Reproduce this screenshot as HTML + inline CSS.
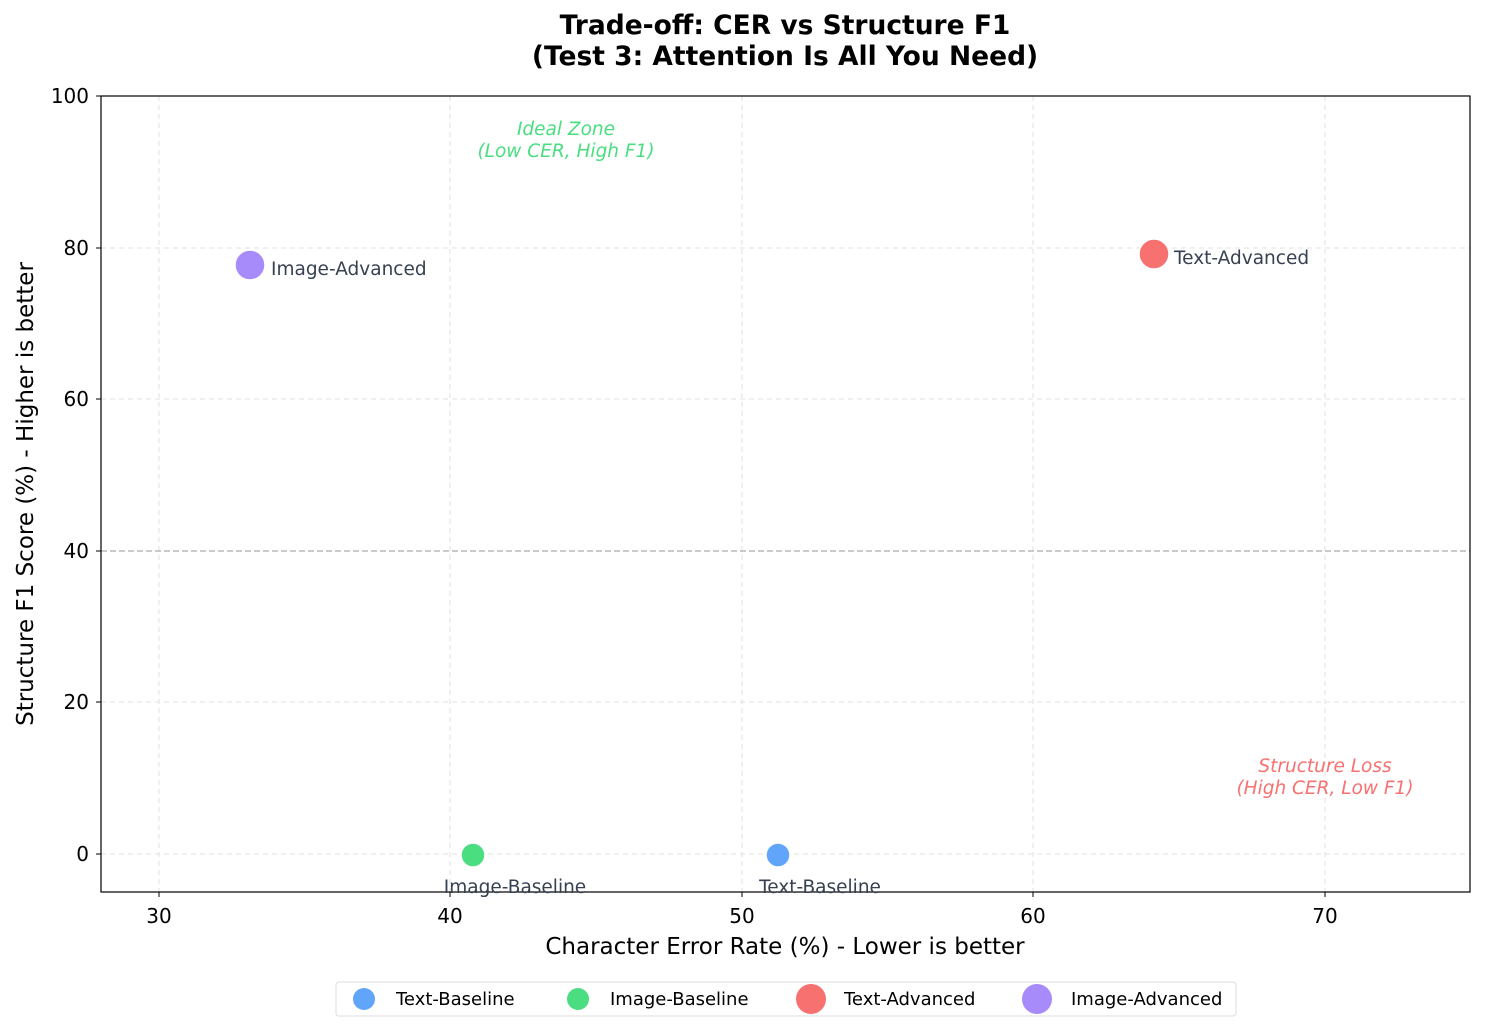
<!DOCTYPE html>
<html><head><meta charset="utf-8"><style>
body{margin:0;background:#fff;}
svg text{font-family:"DejaVu Sans","Liberation Sans",sans-serif;}
</style></head><body>
<svg width="1485" height="1031" viewBox="0 0 1485 1031" xmlns="http://www.w3.org/2000/svg">
<rect width="1485" height="1031" fill="#fff"/>
<text x="785" y="34" font-size="26.5" font-weight="bold" text-anchor="middle" fill="#000">Trade-off: CER vs Structure F1</text>
<text x="785" y="65" font-size="26.5" font-weight="bold" text-anchor="middle" fill="#000">(Test 3: Attention Is All You Need)</text>
<g stroke="#e6e6e6" stroke-width="1.2" stroke-dasharray="5,4">
<line x1="159" y1="96" x2="159" y2="892"/><line x1="450" y1="96" x2="450" y2="892"/>
<line x1="742" y1="96" x2="742" y2="892"/><line x1="1033" y1="96" x2="1033" y2="892"/>
<line x1="1325" y1="96" x2="1325" y2="892"/>
<line x1="101" y1="854" x2="1470" y2="854"/><line x1="101" y1="702" x2="1470" y2="702"/>
<line x1="101" y1="399" x2="1470" y2="399"/><line x1="101" y1="248" x2="1470" y2="248"/>
</g>
<line x1="101" y1="551" x2="1470" y2="551" stroke="#aaa" stroke-width="1.2" stroke-dasharray="6,3"/>
<rect x="101" y="96" width="1369" height="796" fill="none" stroke="#000" stroke-width="1.2"/>
<g stroke="#000" stroke-width="1">
<line x1="159" y1="892" x2="159" y2="897"/><line x1="450" y1="892" x2="450" y2="897"/><line x1="742" y1="892" x2="742" y2="897"/><line x1="1033" y1="892" x2="1033" y2="897"/><line x1="1325" y1="892" x2="1325" y2="897"/>
<line x1="96" y1="854" x2="101" y2="854"/><line x1="96" y1="702" x2="101" y2="702"/><line x1="96" y1="551" x2="101" y2="551"/><line x1="96" y1="399" x2="101" y2="399"/><line x1="96" y1="248" x2="101" y2="248"/><line x1="96" y1="96" x2="101" y2="96"/>
</g>
<g font-size="20" fill="#000" text-anchor="middle">
<text x="159" y="923">30</text><text x="450" y="923">40</text><text x="742" y="923">50</text><text x="1033" y="923">60</text><text x="1325" y="923">70</text>
</g>
<g font-size="20" fill="#000" text-anchor="end">
<text x="89" y="861">0</text><text x="89" y="709">20</text><text x="89" y="558">40</text><text x="89" y="406">60</text><text x="89" y="255">80</text><text x="89" y="103">100</text>
</g>
<text x="785" y="954" font-size="23" text-anchor="middle">Character Error Rate (%) - Lower is better</text>
<text transform="translate(33,494) rotate(-90)" font-size="23" text-anchor="middle">Structure F1 Score (%) - Higher is better</text>
<g font-size="18.5" font-style="italic" text-anchor="middle" fill="#4ade80">
<text x="566" y="135">Ideal Zone</text><text x="566" y="157">(Low CER, High F1)</text></g>
<g font-size="18.5" font-style="italic" text-anchor="middle" fill="#f87171">
<text x="1325" y="772">Structure Loss</text><text x="1325" y="794">(High CER, Low F1)</text></g>
<circle cx="250" cy="265" r="15" fill="#a78bfa" stroke="#fff" stroke-width="1.5"/>
<circle cx="1154" cy="254" r="15" fill="#f87171" stroke="#fff" stroke-width="1.5"/>
<circle cx="473" cy="855" r="12" fill="#4ade80" stroke="#fff" stroke-width="1.5"/>
<circle cx="778" cy="855" r="12" fill="#60a5fa" stroke="#fff" stroke-width="1.5"/>
<g font-size="18.5" fill="#374151">
<text x="271" y="275">Image-Advanced</text><text x="1174" y="264">Text-Advanced</text>
<text x="515" y="893" text-anchor="middle">Image-Baseline</text><text x="820" y="893" text-anchor="middle">Text-Baseline</text>
</g>
<rect x="336" y="982" width="900" height="34" rx="3" fill="#fff" stroke="#ddd"/>
<circle cx="364" cy="999" r="11" fill="#60a5fa"/><text x="396" y="1005" font-size="18">Text-Baseline</text>
<circle cx="578" cy="999" r="11" fill="#4ade80"/><text x="610" y="1005" font-size="18">Image-Baseline</text>
<circle cx="811" cy="999" r="15" fill="#f87171"/><text x="844" y="1005" font-size="18">Text-Advanced</text>
<circle cx="1037" cy="999" r="15" fill="#a78bfa"/><text x="1071" y="1005" font-size="18">Image-Advanced</text>
</svg>
</body></html>
